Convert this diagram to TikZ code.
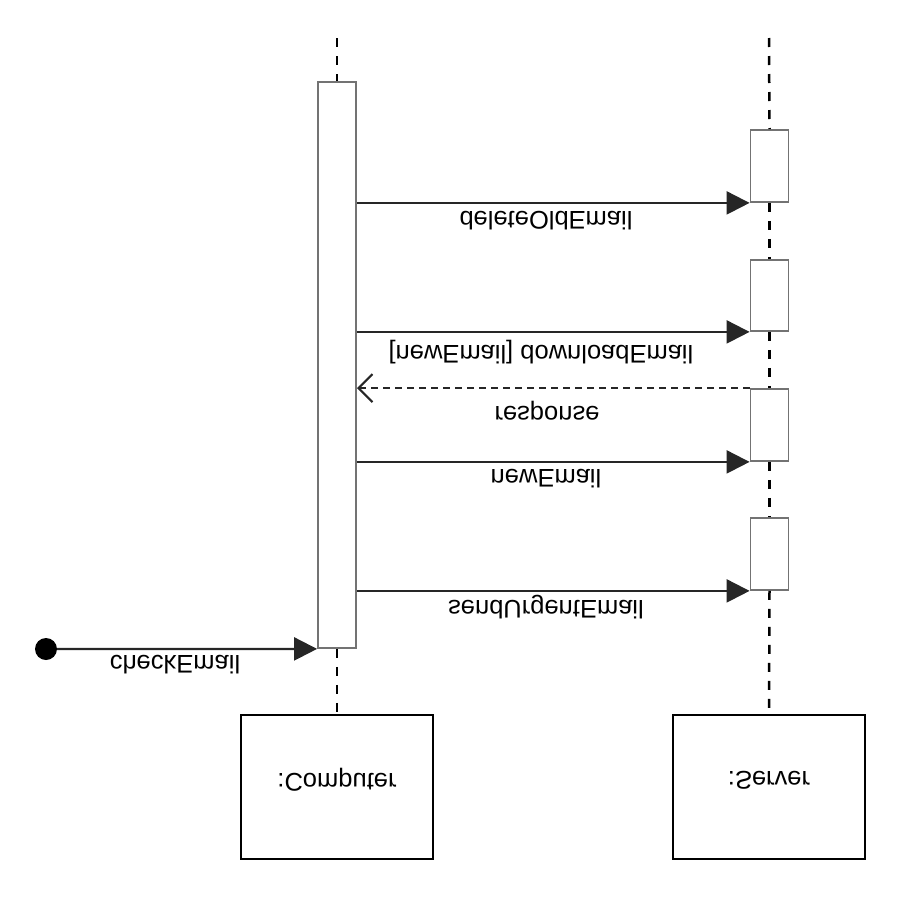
\documentclass[tikz,border=0pt]{standalone}
\usepackage{fontspec}
\setmainfont{Liberation Sans}
\usetikzlibrary{arrows.meta}
\begin{document}
\begin{tikzpicture}[x=1pt,y=-1pt,
  lbl/.style={yscale=-1, font=\fontsize{25.5}{26}\selectfont, inner sep=0pt},
  act/.style={draw=black!55, line width=1.8pt, fill=white, minimum width=38pt, inner sep=0pt},
  obj/.style={draw=black, line width=2.2pt, minimum width=192pt, minimum height=144pt, inner sep=0pt},
  life/.style={line width=2.5pt, dash pattern=on 9pt off 9pt},
  msg/.style={draw=black!85, line width=2.2pt, -{Triangle[length=23pt,width=23pt]}},
  reply/.style={draw=black!85, line width=2.2pt, dash pattern=on 7pt off 5pt, -{Straight Barb[length=14pt,width=28pt]}}]
\useasboundingbox (0,0) rectangle (900,900);

% objects
\node[obj] (comp) at (337,787) {};
\node[lbl] (complbl) at (337,780) {:Computer};
\node[obj] (serv) at (769,787) {};
\node[lbl] (servlbl) at (769,780) {:Server};

% lifeline tops
\coordinate (ctop) at (337,38);
\coordinate (stop) at (769,38);

% activations
\node[act, minimum height=566pt] (cact) at (337,365) {};
\node[act, minimum height=72pt] (s1) at (769.5,166) {};
\node[act, minimum height=71pt] (s2) at (769.5,295.5) {};
\node[act, minimum height=72pt] (s3) at (769.5,425) {};
\node[act, minimum height=72pt] (s4) at (769.5,554) {};

% lifelines
\draw[life] (ctop) -- (cact.north);
\draw[life] (cact.south) -- (comp.north);
\draw[life] (stop) -- (s1.north);
\draw[life] (s1.south) -- (s2.north);
\draw[life] (s2.south) -- (s3.north);
\draw[life] (s3.south) -- (s4.north);
\draw[life] (s4.south) -- (serv.north);

% messages
\draw[msg] (cact.east |- s1.south) -- (s1.south west);
\node[lbl] (m1) at (546,221) {deleteOldEmail};
\draw[msg] (cact.east |- s2.south) -- (s2.south west);
\node[lbl] (m2) at (541,352) {[newEmail] downloadEmail};
\draw[reply] (s3.north west) -- (cact.east |- s3.north);
\node[lbl] (m3) at (547,411) {response};
\draw[msg] (cact.east |- s3.south) -- (s3.south west);
\node[lbl] (m4) at (546,479) {newEmail};
\draw[msg] (cact.east |- s4.south) -- (s4.south west);
\node[lbl] (m5) at (546,607) {sendUrgentEmail};

% found message
\node[circle, fill=black, minimum size=22pt, inner sep=0pt] (start) at (46,649) {};
\draw[msg] (start) -- (cact.south west);
\node[lbl] (m0) at (175,665) {checkEmail};
\end{tikzpicture}
\end{document}
